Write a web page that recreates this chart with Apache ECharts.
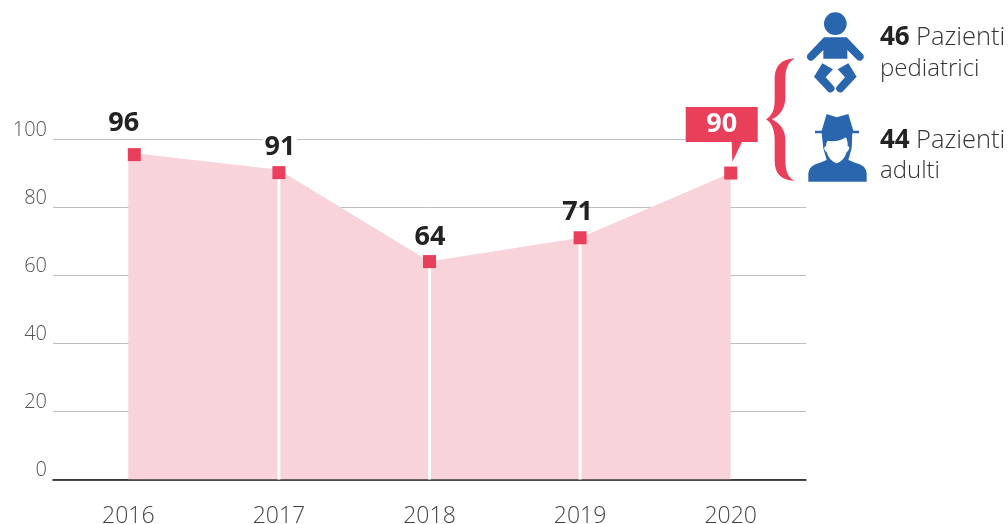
<!DOCTYPE html>
<html><head><meta charset="utf-8">
<style>html,body{margin:0;padding:0;background:#fff}#c{width:1008px;height:524px}</style>
<script src="https://cdn.jsdelivr.net/npm/echarts@6/dist/echarts.min.js"></script>
</head><body><div id="c"></div>
<script>
const years = ['2016','2017','2018','2019','2020'];
const patients = [96,91,64,71,90];
const dividers = [null,91,64,71,null];
const yTicks = [0,20,40,60,80,100];
const FONT = '"Open Sans"';
const RED = '#e93f5b', PINK = '#f8d3d9', BLUE = '#2a66ae', INK = '#222';
const markerShift = [[6,2],[0,3],[0,0],[0,0],[0,0]];
const labelShift = [[-10.5,-6],[1,0],[0.5,1],[-2.5,0],[-9,-30]];

const chart = echarts.init(document.getElementById('c'), null, {renderer:'canvas'});
const inZoom = children => ({type:'group', x:680, y:0, scaleX:1/3, scaleY:1/3, silent:true, z:20, children});
const poly = (points, fill) => ({type:'polygon', z:20, shape:{points}, style:{fill}});
let pathCount = 0;
const svgPath = (d, fill) => {
  const name = 'iconPath' + (pathCount++);
  echarts.graphic.registerShape(name, echarts.graphic.extendPath(d, {}));
  return {type:name, z:20, style:{fill}};
};
const richLine = (y, text) => ({type:'text', x:880, y, silent:true, z:20, style:{text, rich:{
  b:{fontFamily:FONT,fontWeight:700,fontSize:26,fill:INK,color:INK},
  n:{fontFamily:FONT,fontWeight:300,fontSize:25.5,fill:'#333',color:'#333',padding:[0,0,0,3]}}}});
const plainLine = (y, text) => ({type:'text', x:880, y, silent:true, z:20, style:{text, fontFamily:FONT, fontWeight:300, fontSize:24, fill:'#333'}});

chart.setOption({
  animation:false,
  backgroundColor:'#fff',
  grid:{left:53, right:202, top:139, bottom:44.5, containLabel:false, outerBoundsMode:'none'},
  xAxis:{type:'category', data:years, boundaryGap:true,
    axisTick:{show:false},
    axisLine:{onZero:true, lineStyle:{color:'#111', width:1.5}},
    axisLabel:{margin:25, color:'#444', fontFamily:FONT, fontWeight:300, fontSize:23}},
  yAxis:{type:'value', min:0, max:100, interval:20,
    axisLine:{show:false}, axisTick:{show:false},
    splitLine:{lineStyle:{color:'#bdbdbd', width:1}},
    axisLabel:{margin:6, color:'#555', fontFamily:FONT, fontWeight:300, fontSize:20, verticalAlign:'bottom', lineHeight:18,
      formatter:v => yTicks.includes(v) ? String(v) : ''}},
  series:[
    {type:'line', name:'area', data:patients, symbol:'none', z:2, silent:true,
      lineStyle:{width:0}, areaStyle:{color:PINK, opacity:1}},
    {type:'bar', name:'dividers', data:dividers, barWidth:3, z:3, silent:true,
      itemStyle:{color:'#fff'}},
    {type:'line', name:'points', z:5, silent:true, lineStyle:{width:0},
      data:patients.map((value,i)=>({
        value, symbol:'rect', symbolSize:13, symbolOffset:markerShift[i],
        itemStyle:{color:RED},
        label: i===4 ? {
          show:true, position:'top', offset:labelShift[i],
          color:'#fff', fontFamily:FONT, fontWeight:700, fontSize:27,
          backgroundColor:RED, width:72, height:35, lineHeight:35, align:'center', verticalAlign:'middle', distance:12
        } : {
          show:true, position:'top', offset:labelShift[i],
          color:INK, fontFamily:FONT, fontWeight:700, fontSize:27,
          backgroundColor:i===1?'#fff':'transparent', padding:[0,2]
        }
      }))}
  ],
  graphic:[
    {type:'rect', shape:{x:758,y:135,width:50,height:8}, style:{fill:'#fff'}, z:4, silent:true},
    inZoom([
      poly([[155,424],[187,424],[157,485]], RED),
      svgPath('M345 175C300 178 284 200 284 240L284 300C284 335 272 350 258 358C272 366 284 385 284 420L284 480C284 520 300 540 345 542C325 535 316 515 316 480L316 420C316 390 300 370 276 358C300 346 316 325 316 290L316 240C316 205 325 185 345 175Z', RED),
      {type:'circle', z:20, shape:{cx:466,cy:71,r:34}, style:{fill:BLUE}},
      svgPath('M432 112L500 112L548 162Q556 172 546 180Q538 186 530 178L502 150L502 176L430 176L430 150L402 178Q394 186 386 180Q376 172 384 162Z', BLUE),
      svgPath('M427 190L402 230L445 276Q452 280 460 274L464 268Q465 262 460 257L437 232L459 208Z', BLUE),
      svgPath('M505 190L530 230L487 276Q480 280 472 274L468 268Q467 262 472 257L495 232L473 208Z', BLUE),
      svgPath('M385 545L385 520Q388 495 420 488L445 478L500 478L525 488Q558 495 560 520L560 545Z', BLUE),
      svgPath('M440 342L470 352L505 342L520 392L537 392L537 400L517 400L515 445L505 480L440 480L430 445L425 400L405 400L405 392L425 392Z', BLUE),
      svgPath('M443 422Q472 428 498 412Q504 425 503 438Q510 440 507 448Q503 455 499 458Q494 480 470 490Q446 480 441 458Q437 455 433 448Q431 440 438 438Q438 428 443 422Z', '#fff')
    ]),
    richLine(25, '{b|46} {n|Pazienti}'),
    plainLine(57, 'pediatrici'),
    richLine(128, '{b|44} {n|Pazienti}'),
    plainLine(159, 'adulti')
  ]
});
</script></body></html>
